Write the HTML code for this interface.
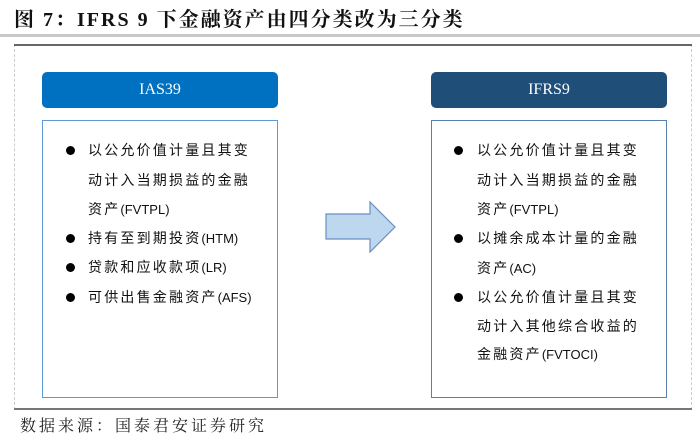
<!DOCTYPE html>
<html><head><meta charset="utf-8"><style>
body{margin:0;width:700px;height:446px;background:#fff;position:relative;overflow:hidden;font-family:"Liberation Serif","Noto Serif CJK SC",serif}
.a{position:absolute}
.t{left:14px;top:3px;font-size:20px;font-weight:bold;color:#111;letter-spacing:2px}
.hd{height:36px;border-radius:5px;color:#fff;font-size:16px;text-align:center;line-height:36px}
.bx{background:#fff;box-sizing:border-box}
.ln{position:absolute;font-family:"Liberation Sans","Noto Sans CJK SC",sans-serif;font-size:14px;letter-spacing:2.2px;color:#111;line-height:20px;white-space:nowrap}
.ln span{letter-spacing:0;font-size:13px}
.dot{position:absolute;width:9px;height:9px;border-radius:50%;background:#000}
</style></head><body>
<div class="a t">图 7：IFRS 9 下金融资产由四分类改为三分类</div>
<div class="a" style="left:0;top:34px;width:700px;height:3px;background:#c8c8c8"></div>
<div class="a" style="left:14px;top:44px;width:678px;height:366px;border-left:1px dashed #ccc;border-right:1px dashed #ccc;box-sizing:border-box"></div>
<div class="a" style="left:14px;top:44px;width:678px;height:2px;background:#666"></div>
<div class="a" style="left:14px;top:408px;width:678px;height:2px;background:#777"></div>
<div class="a hd" style="left:42px;top:72px;width:236px;background:#0070C0">IAS39</div>
<div class="a hd" style="left:431px;top:72px;width:236px;background:#1F4E79">IFRS9</div>
<div class="a bx" style="left:42px;top:120px;width:236px;height:278px;border:1.5px solid #5b9bd5"></div>
<div class="a bx" style="left:431px;top:120px;width:236px;height:278px;border:1.5px solid #5a7fae"></div>
<svg class="a" style="left:0;top:0" width="700" height="446"><polygon points="326,214 370,214 370,202 395,227 370,252 370,239 326,239" fill="#bdd7ee" stroke="#6a8fbf" stroke-width="1.2"/></svg>
<div class="dot" style="left:66px;top:146px"></div>
<div class="ln" style="left:88px;top:140px">以公允价值计量且其变</div>
<div class="ln" style="left:88px;top:170px">动计入当期损益的金融</div>
<div class="ln" style="left:88px;top:199px">资产<span>(FVTPL)</span></div>
<div class="dot" style="left:66px;top:234px"></div>
<div class="ln" style="left:88px;top:228px">持有至到期投资<span>(HTM)</span></div>
<div class="dot" style="left:66px;top:263px"></div>
<div class="ln" style="left:88px;top:257px">贷款和应收款项<span>(LR)</span></div>
<div class="dot" style="left:66px;top:293px"></div>
<div class="ln" style="left:88px;top:287px">可供出售金融资产<span>(AFS)</span></div>
<div class="dot" style="left:454px;top:146px"></div>
<div class="ln" style="left:477px;top:140px">以公允价值计量且其变</div>
<div class="ln" style="left:477px;top:170px">动计入当期损益的金融</div>
<div class="ln" style="left:477px;top:199px">资产<span>(FVTPL)</span></div>
<div class="dot" style="left:454px;top:234px"></div>
<div class="ln" style="left:477px;top:228px">以摊余成本计量的金融</div>
<div class="ln" style="left:477px;top:258px">资产<span>(AC)</span></div>
<div class="dot" style="left:454px;top:293px"></div>
<div class="ln" style="left:477px;top:287px">以公允价值计量且其变</div>
<div class="ln" style="left:477px;top:316px">动计入其他综合收益的</div>
<div class="ln" style="left:477px;top:344px">金融资产<span>(FVTOCI)</span></div>
<div class="a" style="left:20px;top:413px;font-size:16px;letter-spacing:3px;color:#222;font-family:'Liberation Serif','Noto Serif CJK SC',serif">数据来源：国泰君安证券研究</div>
</body></html>
